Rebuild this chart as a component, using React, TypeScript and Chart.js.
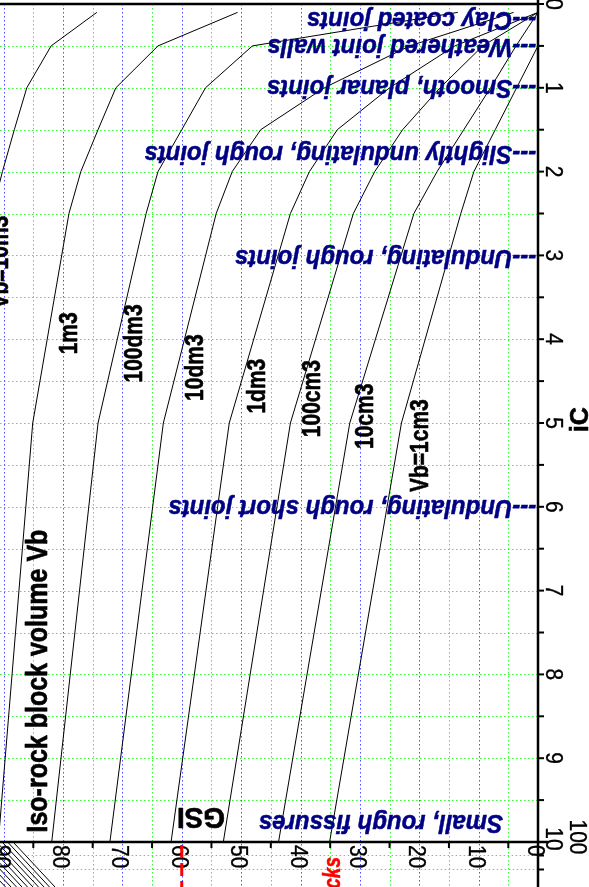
import React, { useEffect, useRef } from 'react';
import { Chart, registerables } from 'chart.js';

Chart.register(...registerables);

// joint condition (iC) values at which the iso-block-volume lines are sampled
const iCLevels = [0.1, 0.5, 1, 1.5, 2, 2.5, 5, 10];

// GSI of each iso-rock-block-volume line at the iC levels above
const gsiVb10m3 = [74.3, 82.0, 86.1, 88.2, 90.2, 92.0, 96.5, 100.5];
const gsiVb1m3 = [50.6, 64.0, 71.1, 74.1, 77.0, 79.0, 85.1, 90.9];
const gsiVb100dm3 = [13.5, 48.1, 56.0, 60.0, 64.0, 66.0, 74.1, 81.9];
const gsiVb10dm3 = [4.1, 21.6, 36.0, 46.7, 51.5, 54.2, 63.1, 72.1];
const gsiVb1dm3 = [0, 14.0, 25.0, 33.8, 38.5, 41.7, 52.0, 61.8];
const gsiVb100cm3 = [0, 9.3, 16.5, 22.8, 27.5, 31.1, 41.7, 53.0];
const gsiVb10cm3 = [0, 3.7, 8.0, 12.5, 17.0, 20.9, 31.7, 43.7];
const gsiVb1cm3 = [0, 0, 3.6, 7.2, 10.8, 13.0, 23.0, 35.1];

const volumeSeries = [gsiVb10m3, gsiVb1m3, gsiVb100dm3, gsiVb10dm3, gsiVb1dm3, gsiVb100cm3, gsiVb10cm3, gsiVb1cm3];
const volumeNames = ['Vb=10m3', '1m3', '100dm3', '10dm3', '1dm3', '100cm3', '10cm3', 'Vb=1cm3'];
// where each line label sits (GSI of text baseline, iC of text centre)
const volumeLabelGSI = [89.3, 77.6, 66.7, 56.4, 46.0, 36.7, 27.8, 18.5];
const volumeLabelIC = [3.08, 3.93, 4.05, 4.34, 4.56, 4.71, 4.92, 5.27];

// joint surface condition descriptions
const jointNames = [
  '---Clay coated joints',
  '---Weathered joint walls',
  '---Smooth, planar joints',
  '---Slightly undulating, rough joints',
  '---Undulating, rough joints',
  '---Undulating, rough short joints',
  'Small, rough fissures',
];
const jointIC = [0.17, 0.49, 0.99, 1.77, 3.01, 6.0, 9.76];
const jointStartGSI = [0.3, 0.3, 0.3, 0.3, 0.3, 0.3, 5.9];

// axis ticks
const gsiTicks = [0, 10, 20, 30, 40, 50, 60, 70, 80, 90];
const iCTicks = [0, 1, 2, 3, 4, 5, 6, 7, 8, 9, 10];

const FONT = '"Liberation Sans", Arial, Helvetica, sans-serif';
const GREEN = 'rgb(60,240,60)';
const BLUE = 'rgb(80,80,255)';
const NAVY = '#000085';

function seg(ctx: CanvasRenderingContext2D, x1: number, y1: number, x2: number, y2: number) {
  ctx.beginPath();
  ctx.moveTo(x1, y1);
  ctx.lineTo(x2, y2);
  ctx.stroke();
}

function txt(
  ctx: CanvasRenderingContext2D, s: string, x: number, y: number, rot: number,
  font: string, color: string, align: CanvasTextAlign, k = 1, heavy = 0,
) {
  ctx.save();
  ctx.translate(x, y);
  ctx.rotate(rot);
  ctx.scale(1, k);
  ctx.font = font;
  ctx.fillStyle = color;
  ctx.textAlign = align;
  ctx.textBaseline = 'alphabetic';
  ctx.fillText(s, 0, 0);
  if (heavy > 0) {
    ctx.setLineDash([]);
    ctx.strokeStyle = color;
    ctx.lineWidth = heavy;
    ctx.lineJoin = 'round';
    ctx.strokeText(s, 0, 0);
  }
  ctx.restore();
}

const decor = {
  id: 'decor',
  beforeDatasetsDraw(chart: any) {
    const { ctx, chartArea: a, scales } = chart;
    const xs = scales.x, ys = scales.y;
    const H = chart.height;
    ctx.save();
    ctx.lineWidth = 1;
    ctx.setLineDash([1.5, 2.5]);
    for (let v = 0.5; v < 10; v += 0.5) {
      const py = Math.round(ys.getPixelForValue(v)) + 0.5;
      ctx.strokeStyle = GREEN;
      seg(ctx, a.left, py, a.right, py);
    }
    for (let g = 5; g <= 90; g += 5) {
      const px = Math.round(xs.getPixelForValue(g)) + 0.5;
      ctx.strokeStyle = g % 10 === 0 ? BLUE : GREEN;
      seg(ctx, px, a.top, px, H);
    }
    // grid of the chart below (partly visible)
    const edge = (yy: number) => 14 + (yy - (a.bottom + 1)) * (41 / 44);
    [a.bottom + 13.5, a.bottom + 27.5].forEach((yy) => {
      ctx.strokeStyle = GREEN;
      seg(ctx, edge(yy) + 2, yy, a.right, yy);
    });
    ctx.restore();
  },
  afterDraw(chart: any) {
    const { ctx, chartArea: a, scales } = chart;
    const xs = scales.x, ys = scales.y;
    const H = chart.height;
    ctx.save();
    ctx.setLineDash([]);
    ctx.strokeStyle = '#000';

    // hatched zone of the lower chart
    ctx.lineWidth = 1;
    for (let i = 0; i < 16; i++) {
      const o = -i * 5.5;
      seg(ctx, 14 + o, a.bottom + 1, 55 + o, H);
    }

    // axes
    ctx.lineWidth = 2.5;
    seg(ctx, a.left, a.top, a.right, a.top);
    seg(ctx, a.right, 0, a.right, H);
    seg(ctx, a.left, a.bottom, a.right + 10, a.bottom);

    // ticks
    ctx.lineWidth = 2;
    for (let v = 0; v <= 10; v += 0.5) {
      const py = ys.getPixelForValue(v);
      seg(ctx, a.right, py, a.right + 6, py);
    }
    [a.bottom + 13.5, a.bottom + 27.5].forEach((yy) => seg(ctx, a.right, yy, a.right + 6, yy));
    for (let g = 5; g <= 85; g += 10) {
      const px = xs.getPixelForValue(g);
      seg(ctx, px, a.bottom, px, a.bottom + 6);
    }

    // tick labels (turned a quarter clockwise)
    const tf = `21px ${FONT}`;
    iCTicks.forEach((v) => {
      const py = ys.getPixelForValue(v) - (v === 10 ? 3 : 0);
      txt(ctx, String(v), a.right + 8, py, Math.PI / 2, tf, '#000', 'center', 1.12, 0.3);
    });
    txt(ctx, '100', a.right + 32, a.bottom - 5, Math.PI / 2, tf, '#000', 'center', 1.12, 0.3);
    gsiTicks.forEach((g) => {
      const px = xs.getPixelForValue(g);
      txt(ctx, String(g), px - 10, a.bottom + 3, Math.PI / 2, tf, '#000', 'left', 1.12, 0.3);
    });

    // axis titles
    txt(ctx, 'iC', a.right + 50, ys.getPixelForValue(4.96), -Math.PI / 2, `bold 25px ${FONT}`, '#000', 'center', 1, 0.6);
    txt(ctx, 'GSI', xs.getPixelForValue(52.7), ys.getPixelForValue(9.6), Math.PI, `bold 28px ${FONT}`, '#000', 'left', 1.05, 0.6);
    txt(ctx, 'Iso-rock block volume Vb', xs.getPixelForValue(82.7), ys.getPixelForValue(8.08), -Math.PI / 2,
      `bold 25px ${FONT}`, '#000', 'center', 1.15, 0.6);

    // iso-volume line labels
    volumeNames.forEach((n, i) => {
      txt(ctx, n, xs.getPixelForValue(volumeLabelGSI[i]), ys.getPixelForValue(volumeLabelIC[i]), -Math.PI / 2,
        `bold 21px ${FONT}`, '#000', 'center', 1.25, 0.5);
    });

    // joint condition labels (upside down)
    jointNames.forEach((n, i) => {
      txt(ctx, n, xs.getPixelForValue(jointStartGSI[i]), ys.getPixelForValue(jointIC[i]) - 6.5, Math.PI,
        `italic bold 24px ${FONT}`, NAVY, 'left', 1.08, 0.5);
    });

    // lower chart pieces
    ctx.strokeStyle = '#ff0000';
    ctx.lineWidth = 3;
    ctx.setLineDash([13, 5]);
    const rx = xs.getPixelForValue(60);
    seg(ctx, rx, a.bottom + 3, rx, H);
    ctx.setLineDash([]);
    txt(ctx, 'cks', xs.getPixelForValue(33.3), a.bottom + 15, -Math.PI / 2, `italic bold 19px ${FONT}`, '#ff0000', 'right', 1.3, 0.4);
    ctx.restore();
  },
};

export default function App() {
  const ref = useRef<HTMLCanvasElement>(null);
  useEffect(() => {
    const canvas = ref.current;
    if (!canvas) return;
    const datasets = volumeSeries.map((s, i) => ({
      label: volumeNames[i],
      data: iCLevels.map((v, j) => ({ x: s[j], y: v })),
      showLine: true,
      borderColor: '#000',
      borderWidth: 1,
      pointRadius: 0,
      fill: false,
      tension: 0,
    }));
    const chart = new Chart(canvas, {
      type: 'scatter',
      data: { datasets },
      options: {
        responsive: false,
        animation: false,
        devicePixelRatio: 1,
        layout: { padding: { top: 4, left: 0, right: 0, bottom: 0 } },
        plugins: { legend: { display: false }, tooltip: { enabled: false } },
        scales: {
          x: {
            type: 'linear', min: 0, max: 538 / 5.9375, reverse: true,
            ticks: { display: false }, grid: { display: false }, border: { display: false },
            afterFit: (s: any) => { s.height = 45; },
          },
          y: {
            type: 'linear', position: 'right', min: 0, max: 10, reverse: true,
            ticks: { display: false }, grid: { display: false }, border: { display: false },
            afterFit: (s: any) => { s.width = 51; },
          },
        },
      } as any,
      plugins: [decor],
    });
    return () => chart.destroy();
  }, []);
  return (
    <div style={{ position: 'fixed', left: 0, top: 0, width: 589, height: 887, background: '#fff' }}>
      <canvas ref={ref} width={589} height={887} style={{ display: 'block', width: 589, height: 887 }} />
    </div>
  );
}
